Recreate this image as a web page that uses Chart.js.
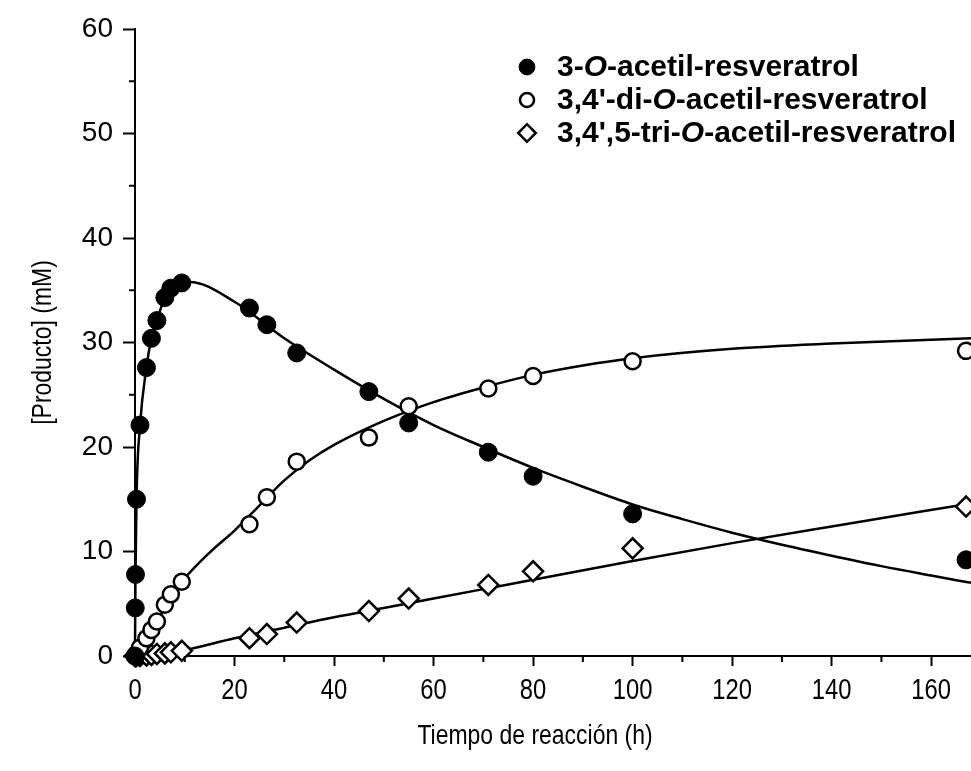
<!DOCTYPE html>
<html>
<head>
<meta charset="utf-8">
<script src="https://cdn.jsdelivr.net/npm/chart.js@4/dist/chart.umd.min.js"></script>
<style>
    html, body { margin: 0; padding: 0; background: #fff; overflow: hidden; }
</style>
</head>
<body>
<canvas id="productChart" width="971" height="771"></canvas>
<script>
// Sampling times (h) and measured concentrations (mM)
const sampleTimes = [0, 0.05, 0.1, 0.3, 1, 2.3, 3.3, 4.4, 6, 7.2, 9.4, 23, 26.5, 32.5, 47, 55, 71, 80, 100, 167];
const monoAcetyl = [0, 4.6, 7.8, 15.0, 22.1, 27.6, 30.4, 32.1, 34.3, 35.2, 35.7, 33.3, 31.7, 29.0, 25.3, 22.3, 19.5, 17.2, 13.6, 9.2];
const diAcetyl = [0, 0, 0, 0.2, 0.8, 1.7, 2.5, 3.3, 4.9, 5.9, 7.1, 12.6, 15.2, 18.6, 20.9, 23.9, 25.6, 26.8, 28.2, 29.2];
const triAcetyl = [0, 0, 0, 0, 0, 0.05, 0.1, 0.2, 0.25, 0.35, 0.5, 1.7, 2.1, 3.2, 4.3, 5.5, 6.8, 8.1, 10.3, 14.3];

// Fitted curves
const monoFitT = [0, 0.05, 0.1, 0.3, 1, 2.3, 3.3, 4.4, 6, 7.2, 9.4, 11, 20, 30, 40, 50, 60, 70, 80, 90, 100, 110, 120, 130, 140, 150, 160, 168];
const monoFitY = [0, 4.6, 7.8, 15, 22, 27.6, 30.4, 32.1, 34.3, 35.2, 35.7, 35.8, 33.9, 30.4, 27.4, 24.6, 22.1, 20.0, 18.0, 16.2, 14.5, 13.1, 11.8, 10.65, 9.6, 8.6, 7.7, 7.0];
const diFitT = [0, 0.3, 1, 2.3, 3.3, 4.4, 6, 7.2, 9.4, 15, 20, 25, 30, 35, 40, 50, 60, 70, 80, 90, 100, 120, 140, 168];
const diFitY = [0, 0.2, 0.8, 1.7, 2.5, 3.3, 4.6, 5.6, 7.1, 9.9, 12.0, 14.4, 16.8, 18.7, 20.2, 22.5, 24.3, 25.7, 26.9, 27.8, 28.5, 29.4, 29.9, 30.4];
const triFitT = [0, 2.3, 4.4, 6, 7.2, 9.4, 20, 30, 40, 50, 60, 70, 80, 100, 120, 140, 168];
const triFitY = [0, 0.05, 0.2, 0.25, 0.35, 0.5, 1.7, 2.7, 3.7, 4.6, 5.5, 6.4, 7.3, 9.1, 10.8, 12.4, 14.6];

// Axis ticks
const xMajorTicks = [0, 20, 40, 60, 80, 100, 120, 140, 160];
const xMinorTicks = [10, 30, 50, 70, 90, 110, 130, 150];
const yMajorTicks = [0, 10, 20, 30, 40, 50, 60];
const yMinorTicks = [5, 15, 25, 35, 45, 55];

// Legend entries: text pieces alternate upright / italic
const legendNames = [
    ['3-', 'O', '-acetil-resveratrol'],
    ["3,4'-di-", 'O', '-acetil-resveratrol'],
    ["3,4',5-tri-", 'O', '-acetil-resveratrol']
];
const xTitle = 'Tiempo de reacción (h)';
const yTitle = '[Producto] (mM)';

const SANS = "'Liberation Sans', Arial, sans-serif";
const NARROW_SCALE = 0.82; // squeeze Liberation Sans to look like Arial Narrow

const toPoints = (xs, ys) => xs.map((x, i) => ({x: x, y: ys[i]}));

const markerStyles = [
    {pointStyle: 'circle', radius: 9, backgroundColor: '#000', borderColor: '#000', borderWidth: 1},
    {pointStyle: 'circle', radius: 8, backgroundColor: '#fff', borderColor: '#000', borderWidth: 2.5},
    {pointStyle: 'rectRot', radius: 10, backgroundColor: '#fff', borderColor: '#000', borderWidth: 2.5}
];
const seriesValues = [monoAcetyl, diAcetyl, triAcetyl];

const markerSets = seriesValues.map((vals, i) => ({
    type: 'scatter',
    data: toPoints(sampleTimes, vals),
    showLine: false,
    pointStyle: markerStyles[i].pointStyle,
    pointRadius: markerStyles[i].radius,
    pointBackgroundColor: markerStyles[i].backgroundColor,
    pointBorderColor: markerStyles[i].borderColor,
    pointBorderWidth: markerStyles[i].borderWidth,
    clip: false,
    order: 0
}));

const fitSets = [[monoFitT, monoFitY], [diFitT, diFitY], [triFitT, triFitY]].map(f => ({
    type: 'line',
    data: toPoints(f[0], f[1]),
    borderColor: '#000',
    borderWidth: 2.5,
    pointRadius: 0,
    cubicInterpolationMode: 'monotone',
    fill: false,
    clip: false,
    order: 1
}));

// narrow text helper
function narrowText(ctx, txt, x, y, size, rotate) {
    ctx.save();
    ctx.translate(x, y);
    if (rotate) ctx.rotate(-Math.PI / 2);
    ctx.scale(NARROW_SCALE, 1);
    ctx.font = size + 'px ' + SANS;
    ctx.fillText(txt, 0, 0);
    ctx.restore();
}

// Draws minor ticks, x labels, axis titles and the legend
const decorPlugin = {
    id: 'decor',
    afterDraw(chart) {
        const ctx = chart.ctx;
        const xs = chart.scales.x, ys = chart.scales.y;
        const area = chart.chartArea;
        ctx.save();
        ctx.strokeStyle = '#000';
        ctx.lineWidth = 2;
        ctx.beginPath();
        xMinorTicks.forEach(v => {
            const px = xs.getPixelForValue(v);
            ctx.moveTo(px, area.bottom);
            ctx.lineTo(px, area.bottom + 6);
        });
        yMinorTicks.forEach(v => {
            const py = ys.getPixelForValue(v);
            ctx.moveTo(area.left, py);
            ctx.lineTo(area.left - 6, py);
        });
        ctx.stroke();

        ctx.fillStyle = '#000';
        ctx.textAlign = 'center';
        ctx.textBaseline = 'middle';
        // x tick labels
        xMajorTicks.forEach(v => narrowText(ctx, String(v), xs.getPixelForValue(v), 691, 29, false));
        // axis titles
        narrowText(ctx, xTitle, 535, 736, 28, false);
        narrowText(ctx, yTitle, 43, (area.top + area.bottom) / 2, 28, true);

        // legend
        ctx.textAlign = 'left';
        legendNames.forEach((parts, i) => {
            const rowY = 67 + i * 33;
            const m = markerStyles[i];
            ctx.fillStyle = m.backgroundColor;
            ctx.strokeStyle = m.borderColor;
            ctx.lineWidth = m.borderWidth;
            Chart.helpers.drawPoint(ctx, {pointStyle: m.pointStyle, radius: m.radius * 0.88, rotation: 0, borderWidth: m.borderWidth}, 527, rowY);
            ctx.fillStyle = '#000';
            let tx = 557;
            parts.forEach((txt, k) => {
                ctx.font = (k % 2 === 1 ? 'italic bold ' : 'bold ') + '30px ' + SANS;
                ctx.fillText(txt, tx, rowY + 1);
                tx += ctx.measureText(txt).width;
            });
        });
        ctx.restore();
    }
};

const ctx = document.getElementById('productChart').getContext('2d');
new Chart(ctx, {
    data: {datasets: markerSets.concat(fitSets)},
    options: {
        responsive: false,
        devicePixelRatio: 1,
        animation: false,
        layout: {autoPadding: false, padding: {top: 29, right: 0, bottom: 0, left: 0}},
        plugins: {legend: {display: false}, tooltip: {enabled: false}},
        scales: {
            x: {
                type: 'linear',
                min: 0,
                max: 168,
                afterBuildTicks: s => { s.ticks = xMajorTicks.map(v => ({value: v})); },
                afterFit: s => { s.height = 115; },
                border: {color: '#000', width: 2},
                grid: {drawOnChartArea: false, drawTicks: true, tickLength: 10, tickColor: '#000', tickWidth: 2},
                ticks: {display: false}
            },
            y: {
                type: 'linear',
                min: 0,
                max: 60,
                afterBuildTicks: s => { s.ticks = yMajorTicks.map(v => ({value: v})); },
                afterFit: s => { s.width = 135; },
                border: {color: '#000', width: 2},
                grid: {drawOnChartArea: false, drawTicks: true, tickLength: 12, tickColor: '#000', tickWidth: 2},
                ticks: {color: '#000', padding: 10, font: {family: SANS, size: 28}}
            }
        }
    },
    plugins: [decorPlugin]
});
</script>
</body>
</html>
